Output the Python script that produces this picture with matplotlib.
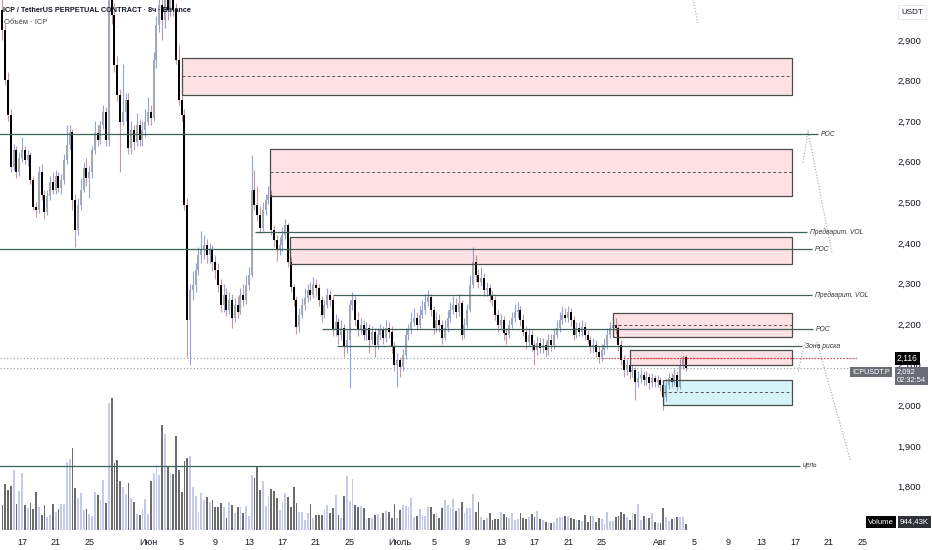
import matplotlib
matplotlib.use("Agg")
import matplotlib.pyplot as plt
import matplotlib.dates as mdates
from matplotlib.patches import Rectangle
import numpy as np
import pandas as pd

plt.rcParams['font.family'] = ['Liberation Sans', 'DejaVu Sans']

# ICPUSDT.P, 8h candles, last bar opened 2025-08-04 00:00
last_bar = "2025-08-04 00:00"
first_open = 2.975

closes = [2.925, 2.801, 2.715, 2.587, 2.629, 2.575, 2.609, 2.629, 2.604, 2.617,
          2.555, 2.489, 2.481, 2.575, 2.518, 2.476, 2.516, 2.550, 2.531, 2.565,
          2.535, 2.555, 2.604, 2.641, 2.673, 2.506, 2.432, 2.494, 2.531, 2.585,
          2.560, 2.575, 2.629, 2.671, 2.654, 2.691, 2.723, 2.654, 3.072, 2.962,
          2.838, 2.765, 2.698, 2.723, 2.752, 2.634, 2.678, 2.649, 2.691, 2.654,
          2.678, 2.698, 2.723, 2.708, 2.851, 2.937, 2.986, 2.949, 3.023, 2.974,
          3.011, 2.974, 2.851, 2.752, 2.715, 2.494, 2.210, 2.284, 2.297, 2.334,
          2.370, 2.383, 2.395, 2.370, 2.383, 2.353, 2.334, 2.297, 2.247, 2.272,
          2.235, 2.260, 2.215, 2.247, 2.230, 2.272, 2.260, 2.297, 2.321, 2.531,
          2.494, 2.469, 2.437, 2.481, 2.506, 2.518, 2.432, 2.407, 2.383, 2.395,
          2.420, 2.444, 2.353, 2.292, 2.260, 2.193, 2.223, 2.247, 2.265, 2.284,
          2.272, 2.297, 2.289, 2.260, 2.223, 2.247, 2.272, 2.260, 2.186, 2.205,
          2.173, 2.191, 2.144, 2.161, 2.247, 2.260, 2.210, 2.186, 2.198, 2.173,
          2.191, 2.161, 2.181, 2.149, 2.173, 2.186, 2.166, 2.191, 2.181, 2.144,
          2.100, 2.112, 2.095, 2.124, 2.173, 2.186, 2.205, 2.215, 2.198, 2.223,
          2.235, 2.255, 2.267, 2.235, 2.191, 2.210, 2.198, 2.166, 2.191, 2.215,
          2.235, 2.247, 2.230, 2.252, 2.173, 2.198, 2.235, 2.297, 2.353, 2.321,
          2.304, 2.314, 2.284, 2.289, 2.272, 2.260, 2.223, 2.198, 2.210, 2.178,
          2.173, 2.198, 2.215, 2.230, 2.235, 2.210, 2.181, 2.156, 2.173, 2.149,
          2.136, 2.154, 2.141, 2.149, 2.136, 2.161, 2.149, 2.173, 2.191, 2.210,
          2.223, 2.215, 2.230, 2.210, 2.173, 2.191, 2.181, 2.193, 2.173, 2.161,
          2.144, 2.149, 2.132, 2.119, 2.136, 2.149, 2.173, 2.191, 2.198, 2.191,
          2.149, 2.112, 2.087, 2.100, 2.082, 2.087, 2.058, 2.068, 2.075, 2.063,
          2.070, 2.055, 2.068, 2.058, 2.063, 2.050, 2.021, 2.050, 2.068, 2.058,
          2.075, 2.045, 2.100, 2.119, 2.092]

highs = [3.020, 2.940, 2.820, 2.730, 2.645, 2.640, 2.625, 2.660, 2.640, 2.630,
         2.625, 2.565, 2.500, 2.590, 2.595, 2.530, 2.530, 2.565, 2.575, 2.580,
         2.575, 2.570, 2.620, 2.690, 2.690, 2.680, 2.520, 2.510, 2.560, 2.600,
         2.610, 2.590, 2.640, 2.700, 2.690, 2.700, 2.740, 2.735, 3.100, 3.110,
         2.990, 2.860, 2.780, 2.840, 2.770, 2.770, 2.700, 2.690, 2.720, 2.705,
         2.700, 2.730, 2.760, 2.740, 2.870, 2.960, 3.030, 3.010, 3.060, 3.050,
         3.040, 3.030, 2.990, 2.890, 2.830, 2.730, 2.510, 2.300, 2.330, 2.350,
         2.390, 2.430, 2.420, 2.410, 2.400, 2.395, 2.370, 2.350, 2.310, 2.300,
         2.290, 2.280, 2.275, 2.265, 2.270, 2.290, 2.300, 2.320, 2.340, 2.617,
         2.580, 2.540, 2.490, 2.500, 2.520, 2.540, 2.530, 2.445, 2.420, 2.415,
         2.440, 2.460, 2.450, 2.365, 2.300, 2.270, 2.240, 2.265, 2.290, 2.300,
         2.305, 2.315, 2.310, 2.300, 2.270, 2.260, 2.290, 2.285, 2.270, 2.225,
         2.215, 2.210, 2.200, 2.185, 2.260, 2.280, 2.270, 2.230, 2.215, 2.210,
         2.205, 2.200, 2.195, 2.190, 2.190, 2.200, 2.195, 2.210, 2.205, 2.195,
         2.155, 2.130, 2.120, 2.140, 2.190, 2.200, 2.230, 2.240, 2.230, 2.245,
         2.260, 2.275, 2.285, 2.275, 2.245, 2.230, 2.225, 2.210, 2.210, 2.235,
         2.255, 2.270, 2.265, 2.275, 2.260, 2.215, 2.250, 2.320, 2.389, 2.370,
         2.335, 2.340, 2.325, 2.305, 2.300, 2.285, 2.270, 2.235, 2.225, 2.220,
         2.190, 2.210, 2.230, 2.250, 2.255, 2.245, 2.225, 2.195, 2.190, 2.185,
         2.160, 2.170, 2.165, 2.165, 2.160, 2.175, 2.175, 2.190, 2.210, 2.230,
         2.245, 2.240, 2.245, 2.240, 2.220, 2.205, 2.205, 2.210, 2.205, 2.185,
         2.170, 2.165, 2.160, 2.145, 2.150, 2.165, 2.190, 2.205, 2.225, 2.215,
         2.200, 2.160, 2.125, 2.115, 2.110, 2.100, 2.095, 2.085, 2.090, 2.085,
         2.085, 2.080, 2.080, 2.075, 2.075, 2.070, 2.060, 2.065, 2.080, 2.080,
         2.090, 2.085, 2.115, 2.125, 2.125]

lows = [2.900, 2.790, 2.700, 2.575, 2.580, 2.560, 2.565, 2.600, 2.595, 2.590,
        2.545, 2.480, 2.465, 2.475, 2.505, 2.460, 2.470, 2.505, 2.520, 2.520,
        2.525, 2.520, 2.545, 2.595, 2.630, 2.480, 2.390, 2.420, 2.480, 2.525,
        2.540, 2.510, 2.560, 2.620, 2.640, 2.645, 2.680, 2.640, 2.640, 2.940,
        2.820, 2.750, 2.575, 2.690, 2.700, 2.620, 2.620, 2.630, 2.640, 2.640,
        2.640, 2.660, 2.690, 2.690, 2.700, 2.830, 2.920, 2.900, 2.930, 2.950,
        2.960, 2.960, 2.840, 2.740, 2.700, 2.480, 2.120, 2.100, 2.260, 2.280,
        2.320, 2.350, 2.360, 2.350, 2.350, 2.330, 2.310, 2.280, 2.230, 2.230,
        2.220, 2.225, 2.190, 2.205, 2.215, 2.225, 2.245, 2.250, 2.285, 2.315,
        2.480, 2.455, 2.425, 2.430, 2.470, 2.495, 2.420, 2.390, 2.355, 2.370,
        2.380, 2.410, 2.340, 2.280, 2.245, 2.175, 2.180, 2.215, 2.235, 2.255,
        2.260, 2.265, 2.270, 2.245, 2.205, 2.215, 2.240, 2.245, 2.170, 2.170,
        2.150, 2.160, 2.120, 2.130, 2.043, 2.235, 2.195, 2.170, 2.175, 2.160,
        2.160, 2.130, 2.150, 2.120, 2.140, 2.160, 2.150, 2.155, 2.165, 2.130,
        2.085, 2.045, 2.070, 2.085, 2.115, 2.160, 2.175, 2.195, 2.185, 2.190,
        2.215, 2.225, 2.245, 2.220, 2.175, 2.180, 2.180, 2.150, 2.160, 2.180,
        2.205, 2.225, 2.215, 2.220, 2.160, 2.165, 2.190, 2.230, 2.290, 2.305,
        2.290, 2.295, 2.270, 2.270, 2.255, 2.245, 2.210, 2.180, 2.185, 2.160,
        2.150, 2.165, 2.190, 2.205, 2.215, 2.195, 2.170, 2.140, 2.145, 2.135,
        2.100, 2.125, 2.130, 2.130, 2.120, 2.125, 2.135, 2.140, 2.165, 2.180,
        2.200, 2.205, 2.205, 2.195, 2.160, 2.165, 2.170, 2.170, 2.160, 2.150,
        2.130, 2.130, 2.120, 2.105, 2.110, 2.125, 2.140, 2.165, 2.180, 2.175,
        2.135, 2.100, 2.070, 2.075, 2.065, 2.070, 2.012, 2.045, 2.055, 2.050,
        2.050, 2.040, 2.045, 2.045, 2.045, 2.035, 1.988, 2.010, 2.040, 2.045,
        2.050, 2.035, 2.040, 2.090, 2.085]

# volume, thousands of ICP
volume_k = [3750, 6900, 6000, 6600, 9000, 3900, 5850, 8550, 3750,
            3300, 4050, 3150, 5700, 3450, 2250, 3750, 1950, 2250, 3900,
            2700, 3150, 3900, 3900, 10200, 10650, 12300, 6300, 4800, 5550,
            3000, 3150, 2400, 2100, 5700, 5250, 4500, 7500, 4050, 19050,
            19800, 10050, 10500, 7350, 6450, 5400, 7050, 4800, 4200, 2400,
            2250, 3150, 4650, 2400, 7350, 8550, 9750, 8250, 15750, 14400,
            9450, 8550, 8400, 14100, 9000, 5700, 10350, 10800, 11100, 6450,
            5100, 2700, 5550, 4500, 4950, 4200, 4500, 3450, 3450, 4050,
            3450, 1800, 4200, 3750, 2550, 3450, 3450, 2550, 3600, 2100,
            8250, 7800, 9450, 6000, 7350, 3600, 4950, 6150, 5850, 4800,
            3000, 4200, 5550, 4950, 3450, 6450, 4050, 2700, 2700,
            1500, 2550, 3900, 1800, 2250, 2250, 2250, 3000, 3750, 2550,
            3300, 5250, 2250, 1800, 5100, 8100, 4350, 7650,
            3750, 3450, 3600, 3300, 1650, 1800, 1800, 2250, 2400, 1800,
            2550, 2850, 2700, 1800, 3900, 1800, 3000, 3750, 3600, 3450,
            4800, 1950, 2100, 3150, 2250, 2100, 3450, 3450, 2400, 2550,
            1800, 3300, 4500, 3750, 3300, 4650, 2850, 3300, 4200, 2550,
            3300, 3300, 5400, 2700, 4200, 1950, 1500, 1800, 2550, 1500,
            1650, 1650, 2700, 2400, 1950, 1800, 2550, 1500, 1650, 2550,
            1800, 1650, 1950, 2400, 1950, 2850, 1650, 1500, 1200,
            1050, 1050, 1200, 1800, 1950, 1950, 2100, 2100, 1800, 1650,
            1500, 1500, 1350, 2250, 1200, 2100, 2100, 1200, 1800, 1650,
            900, 2700, 1350, 1350, 1950, 2100, 2700, 2400, 1950, 1500,
            2550, 2400, 3900, 1500, 2100, 1800, 1800, 2550, 1200, 1050,
            1050, 3300, 1950, 1350, 1650, 1800, 1950, 1950, 1950, 944]

# drawn zones (pink = supply, cyan = demand)
zone_starts = ["2025-06-05 01:00", "2025-06-15 12:00", "2025-06-17 22:00",
               "2025-07-26 09:00", "2025-07-28 09:00", "2025-08-01 07:00"]
zone_end = "2025-08-16 16:00"
zone_tops = [2.856, 2.631, 2.415, 2.228, 2.136, 2.063]
zone_bottoms = [2.765, 2.516, 2.348, 2.169, 2.100, 2.001]
zone_mids = [2.811, 2.575, 2.385, 2.198, 2.117, 2.033]
zone_kinds = ["sell", "sell", "sell", "sell", "risk", "buy"]

# horizontal levels
level_names = ["POC", "Предварит. VOL", "POC", "Предварит. VOL", "POC", "Зона риска", "цель"]
level_prices = [2.668, 2.427, 2.385, 2.272, 2.188, 2.146, 1.851]
level_starts = ["2025-05-14 00:00", "2025-06-13 17:00", "2025-05-14 00:00",
                "2025-06-23 00:00", "2025-06-21 17:00", "2025-06-23 12:00", "2025-05-14 00:00"]
level_ends = ["2025-08-19 18:00", "2025-08-18 11:00", "2025-08-19 01:00",
              "2025-08-19 01:00", "2025-08-19 04:00", "2025-08-17 21:00", "2025-08-17 14:00"]

# dotted projection lines (start date, start price, end date, end price)
path_lines = [("2025-08-04 21:00", 3.000, "2025-08-05 11:00", 2.942),
              ("2025-08-18 14:00", 2.678, "2025-08-17 23:00", 2.597),
              ("2025-08-18 14:00", 2.673, "2025-08-21 10:00", 2.375),
              ("2025-08-18 05:00", 2.156, "2025-08-17 09:00", 2.082),
              ("2025-08-19 15:00", 2.156, "2025-08-23 14:00", 1.866)]

alert_price = 2.116
alert_from = "2025-07-25 01:00"
last_price = 2.092

tick_dates = ["2025-05-17", "2025-05-21", "2025-05-25", "2025-06-01", "2025-06-05",
              "2025-06-09", "2025-06-13", "2025-06-17", "2025-06-21", "2025-06-25",
              "2025-07-01", "2025-07-05", "2025-07-09", "2025-07-13", "2025-07-17",
              "2025-07-21", "2025-07-25", "2025-08-01", "2025-08-05", "2025-08-09",
              "2025-08-13", "2025-08-17", "2025-08-21", "2025-08-25"]
tick_labels = ["17", "21", "25", "Июн", "5", "9", "13", "17", "21", "25",
               "Июль", "5", "9", "13", "17", "21", "25", "Авг", "5", "9",
               "13", "17", "21", "25"]
price_ticks = [1.8, 1.9, 2.0, 2.1, 2.2, 2.3, 2.4, 2.5, 2.6, 2.7, 2.8, 2.9]


def dn(s):
    return mdates.date2num(pd.Timestamp(s))


def fx(px):
    return px / 932


def fy(py):
    return 1 - py / 550


n = min(len(closes), len(highs), len(lows), len(volume_k))
closes = np.array(closes[:n])
highs = np.array(highs[:n])
lows = np.array(lows[:n])
vols = np.array(volume_k[:n])
opens = np.concatenate([[first_open], closes[:-1]])
times = pd.date_range(end=last_bar, periods=n, freq="8h")
t = mdates.date2num(times.values)
up = closes >= opens

fig = plt.figure(figsize=(9.32, 5.5), dpi=100)
fig.patch.set_facecolor("white")
ax = fig.add_axes([0, 18 / 550, 857 / 932, 532 / 550])
axv = ax.twinx()
ax.set_zorder(axv.get_zorder() + 1)
ax.patch.set_visible(False)

# volume
vcol = np.where(up, "#c5c9ea", "#6b6b6b")
axv.bar(t, vols, width=0.22, color=vcol, linewidth=0)
axv.set_ylim(-300, 79500)
axv.axis("off")

# candles
wick_col = np.where(up, "#8fa3e6", "#c49a9f")
body_col = np.where(up, "#a5a8b1", "#000000")
ax.vlines(t, lows, highs, colors=wick_col, linewidth=0.8, zorder=3)
body_lo = np.minimum(opens, closes)
body_h = np.maximum(np.abs(closes - opens), 0.003)
ax.bar(t, body_h, bottom=body_lo, width=0.24, color=body_col, linewidth=0, zorder=3)

# zones
zend = dn(zone_end)
for s, top, bot, mid, kind in zip(zone_starts, zone_tops, zone_bottoms, zone_mids, zone_kinds):
    x0 = dn(s)
    fill = (0.0, 0.72, 0.83, 0.16) if kind == "buy" else (0.95, 0.22, 0.30, 0.15)
    ax.add_patch(Rectangle((x0, bot), zend - x0, top - bot, facecolor=fill,
                           edgecolor="#4d4d4d", linewidth=0.9, zorder=4))
    if kind == "risk":
        ax.hlines(mid, x0, zend, colors="#e0404a", linestyles=(0, (1.5, 1.5)), linewidth=0.8, zorder=4)
    else:
        ax.hlines(mid, x0, zend, colors="#555555", linestyles=(0, (3, 2.5)), linewidth=0.7, zorder=4)

# levels
for name, p, s, e in zip(level_names, level_prices, level_starts, level_ends):
    ax.hlines(p, dn(s), dn(e), colors="#3f605b", linewidth=0.9, zorder=4)
    ax.text(dn(e) + 0.3, p, name, fontsize=4.9, style="italic", color="#333333",
            va="center", ha="left", zorder=5)

for s0, p0, s1, p1 in path_lines:
    ax.plot([dn(s0), dn(s1)], [p0, p1], color="#a3a3a3", linewidth=0.8,
            linestyle=(0, (1, 1.6)), zorder=4, clip_on=False)

# price lines
xl = dn("2025-05-14 09:00")
xr = dn("2025-08-24 09:30")
ax.hlines([alert_price, last_price], xl, xr, colors="#9a9da6", linestyles=(0, (1, 2)),
          linewidth=0.8, zorder=2)
ax.hlines(alert_price, dn(alert_from), xr, colors="#e0404a", linestyles=(0, (1, 1.5)),
          linewidth=0.9, zorder=5)

ax.set_xlim(xl, xr)
ax.set_ylim(1.688, 2.9985)
for sp in ax.spines.values():
    sp.set_visible(False)

ax.set_xticks([])
ax.yaxis.tick_right()
ax.set_yticks(price_ticks)
ax.set_yticklabels([f"{v:.3f}".replace(".", ",") for v in price_ticks])
ax.tick_params(axis="y", length=0, pad=29, labelsize=6.8, labelcolor="#131722")

xtr = ax.get_xaxis_transform()
for d, lab in zip(tick_dates, tick_labels):
    ax.text(dn(d), -0.012, lab, transform=xtr, ha="center", va="top",
            fontsize=6.5, color="#131722", clip_on=False)

# header
ax.text(3 / 857, 1 - 11 / 532, "ICP / TetherUS PERPETUAL CONTRACT · 8ч · Binance",
        transform=ax.transAxes, fontsize=5.2, fontweight="bold", color="#131722",
        va="center", ha="left", zorder=6)
ax.text(4 / 857, 1 - 22 / 532, "Объём · ICP", transform=ax.transAxes, fontsize=5.4,
        color="#444444", va="center", ha="left", zorder=6)

# right scale labels
fig.text(fx(901), fy(12), "USDT", fontsize=5.8, color="#131722", va="center", ha="left",
         bbox=dict(boxstyle="square,pad=0.4", facecolor="white", edgecolor="#e0e3eb", linewidth=0.6))
fig.text(fx(897), fy(358.5), "2,116", fontsize=6.2, color="white", va="center", ha="left",
         bbox=dict(boxstyle="square,pad=0.22", facecolor="#000000", edgecolor="none"))
fig.text(fx(897), fy(376), "2,092\n02:32:54", fontsize=5.4, color="white", va="center", ha="left",
         linespacing=1.2,
         bbox=dict(boxstyle="square,pad=0.25", facecolor="#6a6d76", edgecolor="none"))
fig.text(fx(890), fy(372), "ICPUSDT.P", fontsize=5.2, color="white", va="center", ha="right",
         bbox=dict(boxstyle="square,pad=0.25", facecolor="#6a6d76", edgecolor="none"))
fig.text(fx(868), fy(522), "Volume", fontsize=5.6, color="white", va="center", ha="left",
         bbox=dict(boxstyle="square,pad=0.3", facecolor="#000000", edgecolor="none"))
fig.text(fx(900), fy(522), "944,43K", fontsize=5.6, color="white", va="center", ha="left",
         bbox=dict(boxstyle="square,pad=0.3", facecolor="#2f3138", edgecolor="none"))

fig.savefig("out.png", dpi=100, facecolor="white")
